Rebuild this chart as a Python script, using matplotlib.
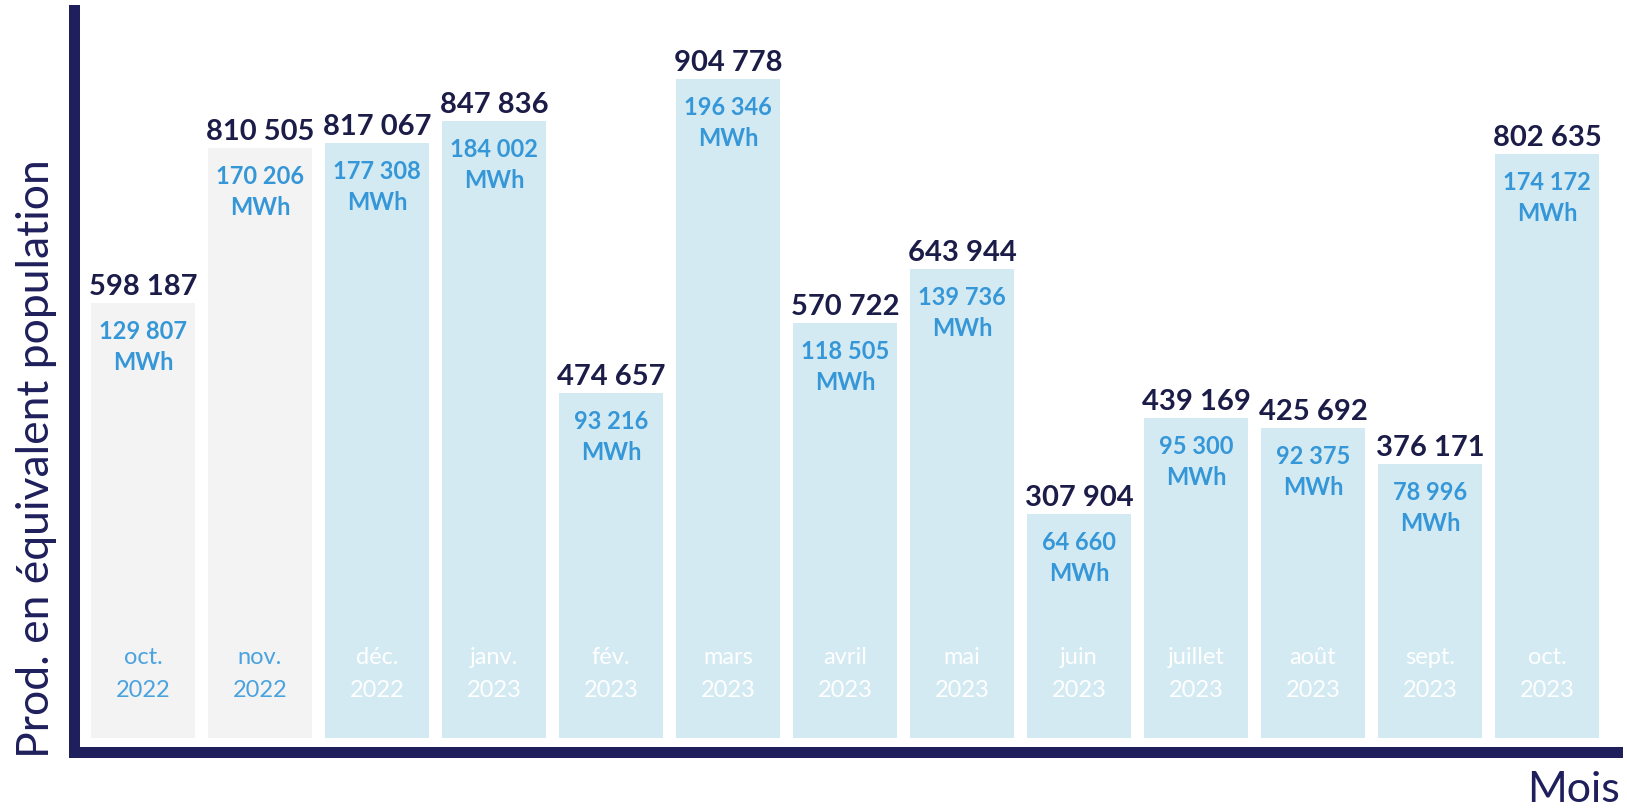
import matplotlib
matplotlib.use("Agg")
import matplotlib.pyplot as plt
import numpy as np

# -----------------------------
# DATA
# -----------------------------
mois = ["oct.", "nov.", "déc.", "janv.", "fév.", "mars", "avril", "mai",
        "juin", "juillet", "août", "sept.", "oct."]
annees = ["2022", "2022", "2022", "2023", "2023", "2023", "2023", "2023",
          "2023", "2023", "2023", "2023", "2023"]
population = [598187, 810505, 817067, 847836, 474657, 904778, 570722,
              643944, 307904, 439169, 425692, 376171, 802635]
mwh = [129807, 170206, 177308, 184002, 93216, 196346, 118505,
       139736, 64660, 95300, 92375, 78996, 174172]
annee_passee = [True, True, False, False, False, False, False, False,
                False, False, False, False, False]

# -----------------------------
# STYLE
# -----------------------------
NAVY = "#1f1f5c"
VAL_COL = "#1c1c48"
BLUE_TXT = "#3597d8"
GRIS = "#f3f3f3"
BLEU_BAR = "#d3eaf2"
PT = 0.72  # px -> pt (dpi 100)

plt.rcParams["font.family"] = ["Lato", "DejaVu Sans"]


def fmt(v):
    return f"{v:,}".replace(",", " ")


fig = plt.figure(figsize=(16.27, 8.09), dpi=100)
ax = fig.add_axes([74 / 1627, 57 / 809, 1543 / 1627, 742 / 809])

x = np.arange(len(population))
couleurs = [GRIS if p else BLEU_BAR for p in annee_passee]
ax.bar(x, population, width=0.89, color=couleurs, zorder=1)

ax.set_xlim(-0.59, 12.598)
ax.set_ylim(-19236, 1000270)

for i, v in enumerate(population):
    # valeur en équivalent population
    ax.annotate(fmt(v), xy=(i, v), xytext=(0, 8 * PT), textcoords="offset points",
                ha="center", va="baseline", fontsize=21, fontweight="bold",
                color=VAL_COL)
    # production en MWh
    ax.annotate(fmt(mwh[i]), xy=(i, v), xytext=(0, -36 * PT), textcoords="offset points",
                ha="center", va="baseline", fontsize=17, fontweight="bold",
                color=BLUE_TXT)
    ax.annotate("MWh", xy=(i, v), xytext=(0, -67 * PT), textcoords="offset points",
                ha="center", va="baseline", fontsize=17, fontweight="bold",
                color=BLUE_TXT)
    # mois / année
    c = "#4aa3df" if annee_passee[i] else "white"
    ax.annotate(mois[i], xy=(i, 0), xytext=(0, 74 * PT), textcoords="offset points",
                ha="center", va="baseline", fontsize=17, color=c)
    ax.annotate(annees[i], xy=(i, 0), xytext=(0, 41 * PT), textcoords="offset points",
                ha="center", va="baseline", fontsize=17, color=c)

# axes
for s in ["top", "right"]:
    ax.spines[s].set_visible(False)
for s in ["left", "bottom"]:
    ax.spines[s].set_linewidth(11 * PT)
    ax.spines[s].set_color(NAVY)
    ax.spines[s].set_capstyle("projecting")
ax.set_xticks([])
ax.set_yticks([])

fig.text(37 / 1627, 1 - 459 / 809, "Prod. en équivalent population", rotation=90,
         ha="center", va="center", fontsize=32, color=NAVY)
fig.text(1620 / 1627, 1 - 802 / 809, "Mois", ha="right", va="baseline",
         fontsize=31, color=NAVY)

fig.savefig("out.png", dpi=100)
